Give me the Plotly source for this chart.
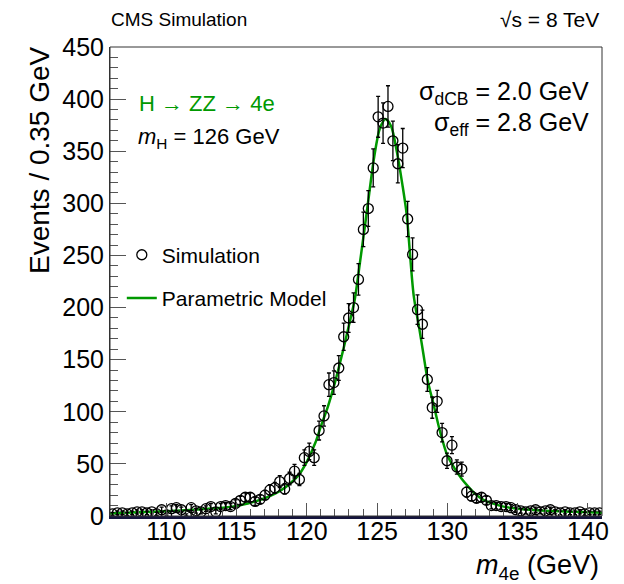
import numpy as np
import plotly.graph_objects as go

# ---- data ----
bin_width = 0.35
bin_start = 106.0
events = [2, 3, 3, 2, 3, 4, 4, 3, 4, 2,
          6, 1, 7, 8, 6, 1, 8, 5, 4, 7,
          9, 4, 9, 10, 9, 12, 15, 18, 18, 14,
          16, 20, 25, 27, 33, 26, 36, 43, 35, 56,
          62, 56, 82, 96, 126, 128, 142, 172, 190, 200,
          227, 275, 295, 334, 383, 377, 393, 360, 338, 353,
          285, 251, 198, 184, 131, 104, 110, 80, 53, 68,
          47, 45, 23, 19, 17, 18, 15, 10, 10, 9,
          9, 8, 6, 5, 4, 5, 6, 4, 5, 6,
          4, 3, 4, 3, 3, 4, 2, 3, 3, 3]
bin_centers = [bin_start + bin_width * (i + 0.5) for i in range(len(events))]
errors = list(np.sqrt(np.array(events, dtype=float)))

model_mass = [106.0, 108.0, 110.0, 112.0, 113.5, 114.7, 115.8, 117.0, 118.2, 119.4,
              120.0, 120.6, 121.0, 121.5, 122.0, 122.6, 123.0, 123.4, 123.8, 124.3,
              124.8, 125.2, 125.6, 126.0, 126.4, 126.8, 127.1, 127.6, 128.0, 128.3,
              128.6, 129.0, 129.5, 130.0, 130.5, 131.0, 131.5, 132.0, 132.5, 133.0,
              134.0, 135.0, 137.0, 139.0, 141.0]
model_events = [2.5, 3.5, 4.5, 6, 7.5, 9, 12, 17, 25, 39,
                52, 70, 86, 105, 128, 160, 183, 207, 245, 295,
                345, 372, 381, 374, 350, 318, 290, 212, 180, 155,
                130, 108, 80, 58, 46, 36, 28, 21, 16, 13,
                9, 7, 5, 4, 3]

x_range = [106, 141]
y_range = [0, 450]

FONT = "Liberation Sans, Arial, Helvetica, sans-serif"
GREEN = "#009900"

fig = go.Figure()
fig.add_trace(go.Scatter(
    x=model_mass, y=model_events, mode="lines",
    line=dict(color=GREEN, width=2.5, shape="spline", smoothing=0.8),
    name="Parametric Model", legendgroup="b", legendrank=2,
))
fig.add_trace(go.Scatter(
    x=bin_centers, y=events, mode="markers",
    marker=dict(symbol="circle-open", size=10, color="black", line=dict(width=1.3, color="black")),
    error_y=dict(type="data", array=errors, visible=True, color="black", thickness=1.3, width=2),
    name="Simulation", legendgroup="a", legendrank=1,
))

fig.update_layout(
    width=624, height=584,
    margin=dict(l=110, r=22, t=47, b=68),
    paper_bgcolor="white", plot_bgcolor="white",
    font=dict(family=FONT, color="black"),
    showlegend=True,
    legend=dict(x=0.024, y=0.60, xanchor="left", yanchor="top",
                bgcolor="rgba(0,0,0,0)", font=dict(size=21, family=FONT),
                tracegroupgap=13, traceorder="grouped", itemwidth=30),
    xaxis=dict(range=x_range, showgrid=False, zeroline=False,
               showline=True, linecolor="#14143c", linewidth=2.5,
               ticks="inside", ticklen=13, tickwidth=1, tickcolor="#555555",
               tick0=110, dtick=5, tickfont=dict(size=25, family=FONT),
               ticklabelstandoff=-9,
               minor=dict(ticks="inside", ticklen=7, dtick=1, tick0=106, tickcolor="#555555", showgrid=False)),
    yaxis=dict(range=y_range, showgrid=False, zeroline=False,
               showline=True, linecolor="#333333", linewidth=1,
               ticks="inside", ticklen=16, tickwidth=1, tickcolor="#555555",
               tick0=0, dtick=50, tickfont=dict(size=25, family=FONT),
               minor=dict(ticks="inside", ticklen=8, dtick=10, tickcolor="#555555", showgrid=False)),
    shapes=[dict(type="rect", xref="paper", yref="paper", x0=0, x1=1, y0=0, y1=1,
                 line=dict(color="#333333", width=1), fillcolor="rgba(0,0,0,0)", layer="above")],
)

ann = [
    dict(text="CMS Simulation", x=109, y=19, xanchor="left", size=19),
    dict(text="√s = 8 TeV", x=601, y=19, xanchor="right", size=21),
    dict(text="H → ZZ → 4e", x=137, y=103, xanchor="left", size=22, color=GREEN),
    dict(text="<i>m</i><sub>H</sub> = 126 GeV", x=136, y=138, xanchor="left", size=22),
    dict(text="σ<sub>dCB</sub> = 2.0 GeV", x=591, y=93, xanchor="right", size=25),
    dict(text="σ<sub>eff</sub> = 2.8 GeV", x=591, y=124, xanchor="right", size=25),
    dict(text="<i>m</i><sub>4e</sub> (GeV)", x=601, y=567, xanchor="right", size=27),
]
annotations = []
for a in ann:
    annotations.append(dict(
        text=a["text"], xref="paper", yref="paper",
        x=(a["x"] - 110) / 492, y=(516 - a["y"]) / 469,
        xanchor=a["xanchor"], yanchor="middle", showarrow=False,
        font=dict(family=FONT, size=a["size"], color=a.get("color", "black")),
    ))
annotations.append(dict(
    text="Events / 0.35 GeV", xref="paper", yref="paper",
    x=(40 - 110) / 492, y=(516 - 44) / 469, xanchor="center", yanchor="top",
    textangle=-90, showarrow=False, font=dict(family=FONT, size=28, color="black"),
))
fig.update_layout(annotations=annotations)

fig.write_html("out.html")
